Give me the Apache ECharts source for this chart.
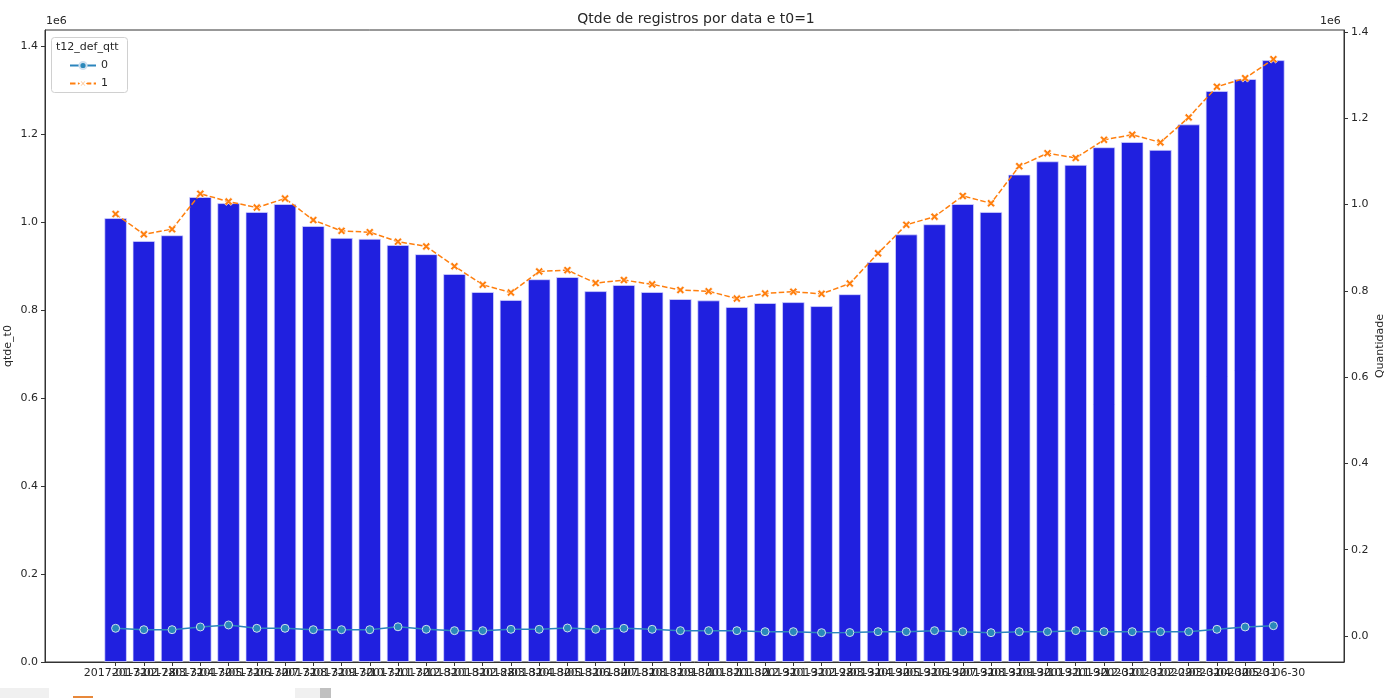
<!DOCTYPE html>
<html>
<head>
<meta charset="utf-8">
<script src="https://cdn.jsdelivr.net/npm/echarts@6/dist/echarts.min.js"></script>
<style>html,body{margin:0;padding:0;background:#fff;}#c{width:1392px;height:698px;}</style>
</head>
<body>
<div id="c"></div>
<script>
const categories = [
  '2017-01-31','2017-02-28','2017-03-31','2017-04-30','2017-05-31','2017-06-30',
  '2017-07-31','2017-08-31','2017-09-30','2017-10-31','2017-11-30','2017-12-31',
  '2018-01-31','2018-02-28','2018-03-31','2018-04-30','2018-05-31','2018-06-30',
  '2018-07-31','2018-08-31','2018-09-30','2018-10-31','2018-11-30','2018-12-31',
  '2019-01-31','2019-02-28','2019-03-31','2019-04-30','2019-05-31','2019-06-30',
  '2019-07-31','2019-08-31','2019-09-30','2019-10-31','2019-11-30','2019-12-31',
  '2020-01-31','2020-02-29','2020-03-31','2020-04-30','2020-05-31','2020-06-30'
];
// qtde_t0 (bars, left axis)
const qtdeT0 = [
  1009000, 957000, 970000, 1057000, 1043000, 1023000,
  1041000, 991000, 964000, 962000, 948000, 927000,
  882000, 841000, 823000, 870000, 875000, 843000,
  857000, 841000, 825000, 822000, 807000, 816000,
  818000, 809000, 836000, 909000, 972000, 995000,
  1041000, 1023000, 1108000, 1138000, 1130000, 1170000,
  1182000, 1164000, 1222000, 1298000, 1325000, 1368000
];
// t12_def_qtt = 0 (right axis)
const series0 = [
  17800, 14600, 14600, 20900, 25500, 17800,
  17800, 14600, 14600, 14600, 21300, 15500,
  12400, 12400, 15500, 15500, 18500, 15500,
  17800, 15500, 12400, 12400, 12400, 10000,
  10000, 7700, 8000, 10000, 10000, 12400,
  10000, 7700, 10000, 10000, 12400, 10000,
  10000, 10000, 10000, 15500, 20900, 23900
];
// t12_def_qtt = 1 (right axis)
const series1 = [
  978000, 931000, 943000, 1025000, 1007000, 993000,
  1014000, 964000, 939000, 936000, 914000, 903000,
  857000, 814000, 796000, 845000, 848000, 818000,
  825000, 815000, 802000, 799000, 782000, 794000,
  798000, 793000, 817000, 887000, 953000, 972000,
  1020000, 1003000, 1089000, 1119000, 1108000, 1150000,
  1162000, 1144000, 1202000, 1273000, 1293000, 1337000
];
const leftTicks = [0, 200000, 400000, 600000, 800000, 1000000, 1200000, 1400000];
const rightTicks = [0, 200000, 400000, 600000, 800000, 1000000, 1200000, 1400000];

const PAD = 2;
const padded = Array(PAD).fill('').concat(categories, Array(PAD).fill(''));
const padData = arr => Array(PAD).fill('-').concat(arr, Array(PAD).fill('-'));

const FONT = 'DejaVu Sans';
const TXT = '#262626';
const XMARK = 'path://M0,2.2 L2.2,0 L5,2.8 L7.8,0 L10,2.2 L7.2,5 L10,7.8 L7.8,10 L5,7.2 L2.2,10 L0,7.8 L2.8,5 Z';

const chart = echarts.init(document.getElementById('c'), null, {renderer: 'canvas'});
chart.setOption({
  animation: false,
  backgroundColor: '#fff',
  textStyle: {fontFamily: FONT},
  title: {
    text: 'Qtde de registros por data e t0=1',
    left: 'center', top: 7,
    textStyle: {fontFamily: FONT, fontSize: 14, fontWeight: 'normal', color: TXT}
  },
  grid: {left: 45, right: 48, top: 30, bottom: 36, containLabel: false, outerBoundsMode: 'none',
    show: true, borderColor: '#333', borderWidth: 1, backgroundColor: 'transparent'},
  legend: {
    orient: 'vertical', left: 64, top: 55, z: 10,
    itemWidth: 26, itemHeight: 9, itemGap: 7,
    textStyle: {fontFamily: FONT, fontSize: 11, color: TXT},
    data: ['0', '1']
  },
  xAxis: {
    type: 'category', data: padded, boundaryGap: true,
    axisLine: {show: true, lineStyle: {color: '#333', width: 1}},
    axisTick: {show: true, alignWithLabel: true, length: 4, inside: false,
      interval: (i, v) => v !== '', lineStyle: {color: '#333'}},
    axisLabel: {interval: 0, fontFamily: FONT, fontSize: 11, color: TXT, margin: 6, hideOverlap: false},
    splitLine: {show: false}
  },
  yAxis: [
    {
      type: 'value', min: 0, max: 1436400, position: 'left',
      name: 'qtde_t0', nameLocation: 'middle', nameGap: 31, nameRotate: 90, nameMoveOverlap: false,
      nameTextStyle: {fontFamily: FONT, fontSize: 11, color: TXT},
      axisLine: {show: true, lineStyle: {color: '#333'}},
      axisTick: {show: true, length: 4, customValues: leftTicks, lineStyle: {color: '#333'}},
      axisLabel: {customValues: leftTicks, formatter: v => (v / 1e6).toFixed(1), fontFamily: FONT, fontSize: 11, color: TXT, margin: 7},
      splitLine: {show: false}
    },
    {
      type: 'value', min: -60300, max: 1404600, position: 'right',
      name: 'Quantidade', nameLocation: 'middle', nameGap: 31, nameRotate: 90, nameMoveOverlap: false,
      nameTextStyle: {fontFamily: FONT, fontSize: 11, color: TXT},
      axisLine: {show: true, lineStyle: {color: '#333'}},
      axisTick: {show: true, length: 4, customValues: rightTicks, lineStyle: {color: '#333'}},
      axisLabel: {customValues: rightTicks, formatter: v => (v / 1e6).toFixed(1), fontFamily: FONT, fontSize: 11, color: TXT, margin: 7},
      splitLine: {show: false}
    }
  ],
  graphic: [
    {type: 'text', left: 46, top: 16, style: {text: '1e6', font: '11px "DejaVu Sans"', fill: TXT}},
    {type: 'text', left: 1320, top: 16, style: {text: '1e6', font: '11px "DejaVu Sans"', fill: TXT}},
    {type: 'rect', shape: {x: 51.5, y: 37.5, width: 76, height: 55, r: 3}, z: 1,
      style: {fill: 'rgba(255,255,255,0.8)', stroke: '#d0d0d0', lineWidth: 1}},
    {type: 'text', x: 56, y: 42, z: 2, style: {text: 't12_def_qtt', font: '11px "DejaVu Sans"', fill: TXT}},
    {type: 'rect', shape: {x: 0, y: 688, width: 49, height: 10}, style: {fill: '#f0f0f0'}},
    {type: 'rect', shape: {x: 295, y: 688, width: 25, height: 10}, style: {fill: '#f0f0f0'}},
    {type: 'rect', shape: {x: 320, y: 688, width: 11, height: 10}, style: {fill: '#c0c0c0'}},
    {type: 'rect', shape: {x: 73, y: 696, width: 20, height: 2}, style: {fill: '#e8883a'}}
  ],
  series: [
    {
      name: 'qtde_t0', type: 'bar', yAxisIndex: 0, data: padData(qtdeT0), barWidth: '80%',
      itemStyle: {color: '#2020df', borderColor: 'rgba(220,220,255,0.7)', borderWidth: 1},
      z: 2
    },
    {
      name: '0', type: 'line', yAxisIndex: 1, data: padData(series0),
      symbol: 'circle', symbolSize: 8, showSymbol: true,
      lineStyle: {color: '#2b85bd', width: 1.5},
      itemStyle: {color: '#2a88ba', borderColor: '#cfe0f0', borderWidth: 1},
      z: 5
    },
    {
      name: '1', type: 'line', yAxisIndex: 1, data: padData(series1),
      symbol: XMARK, symbolSize: 8, showSymbol: true,
      lineStyle: {color: '#ff7f0e', width: 1.5, type: [5.5, 2.4]},
      itemStyle: {color: '#ff7f0e', borderColor: '#fff', borderWidth: 0.6},
      z: 6
    }
  ]
});
</script>
</body>
</html>
